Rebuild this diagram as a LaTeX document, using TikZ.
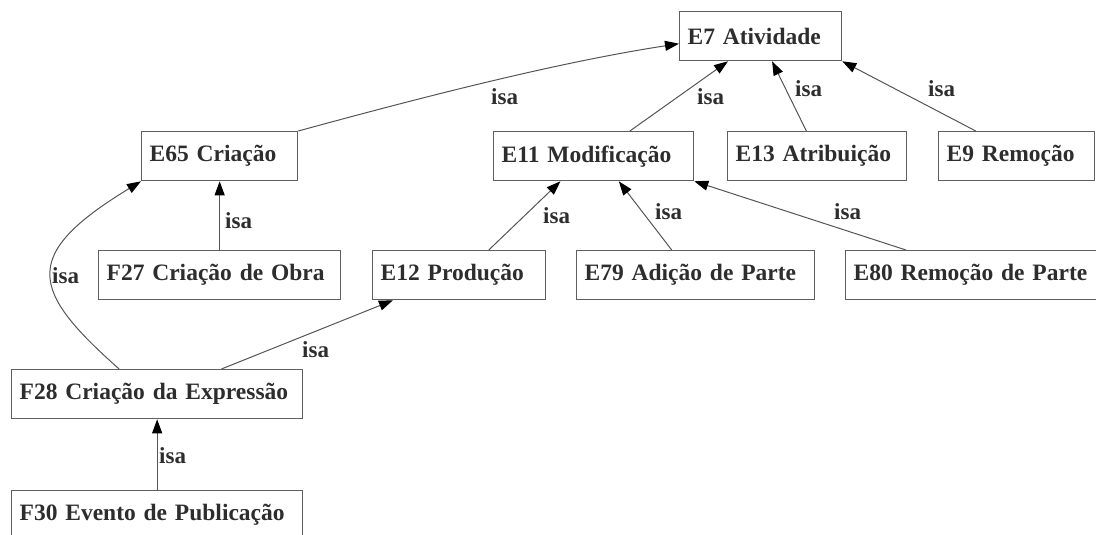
\documentclass[tikz,border=0pt]{standalone}
\usepackage{fontspec}
\setmainfont{Liberation Serif}
\usetikzlibrary{arrows.meta,calc}
\definecolor{boxline}{RGB}{95,95,95}
\definecolor{edgeline}{RGB}{85,85,85}
\definecolor{labeltext}{RGB}{45,45,45}
\begin{document}
\begin{tikzpicture}[x=1pt,y=-1pt,
  cls/.style={draw=boxline, line width=1.3pt, anchor=north west, minimum height=49pt,
    inner xsep=8pt, inner ysep=0pt, align=left,
    font=\fontsize{23.5}{28}\selectfont\bfseries, text=labeltext},
  isa/.style={draw=edgeline, line width=1pt,
    -{Triangle[length=14pt,width=10pt,color=black]}},
  lbl/.style={anchor=base west, inner sep=0pt,
    font=\fontsize{23}{27}\selectfont\bfseries, text=labeltext}]
\useasboundingbox (0,0) rectangle (1096,535);
\clip (0,0) rectangle (1096,535);

% classes (box width = text width + 16pt)
\node[cls, text width=146pt] (e7)  at (679,11)  {E7 Atividade};
\node[cls, text width=140pt] (e65) at (141,131) {E65 Criação};
\node[cls, text width=184pt] (e11) at (493,131) {E11 Modificação};
\node[cls, text width=163pt] (e13) at (727,131) {E13 Atribuição};
\node[cls, text width=140pt] (e9)  at (938,131) {E9 Remoção};
\node[cls, text width=226pt] (f27) at (98,250)  {F27 Criação de Obra};
\node[cls, text width=157pt] (e12) at (372,250) {E12 Produção};
\node[cls, text width=222pt] (e79) at (576,250) {E79 Adição de Parte};
\node[cls, text width=244pt] (e80) at (845,250) {E80 Remoção de Parte};
\node[cls, text width=275pt] (f28) at (11,369)  {F28 Criação da Expressão};
\node[cls, text width=275pt] (f30) at (11,490)  {F30 Evento de Publicação};

% isa links
\draw[isa] (e65.north east) .. controls (430,95) and (560,62) .. ($(e7.north west)!0.65!(e7.south west)$);
\draw[isa] ($(e11.north west)!0.68!(e11.north east)$) -- ($(e7.south west)!0.30!(e7.south east)$);
\draw[isa] ($(e13.north west)!0.44!(e13.north east)$) -- ($(e7.south west)!0.57!(e7.south east)$);
\draw[isa] ($(e9.north west)!0.24!(e9.north east)$) -- (e7.south east);
\draw[isa] (f27.north) -- (f27.north |- e65.south);
\draw[isa] ($(f28.north west)!0.37!(f28.north east)$) .. controls (30,290) and (20,255) .. (e65.south west);
\draw[isa] ($(e12.north west)!0.67!(e12.north east)$) -- ($(e11.south west)!0.335!(e11.south east)$);
\draw[isa] ($(e79.north west)!0.40!(e79.north east)$) -- ($(e11.south west)!0.625!(e11.south east)$);
\draw[isa] ($(e80.north west)+(61,0)$) -- (e11.south east);
\draw[isa] ($(f28.north west)!0.72!(f28.north east)$) -- ($(e12.south west)!0.12!(e12.south east)$);
\draw[isa] (f30.north) -- (f28.south);

% link labels
\node[lbl] (l1)  at (491,104) {isa};
\node[lbl] (l2)  at (697,104) {isa};
\node[lbl] (l3)  at (795,97)  {isa};
\node[lbl] (l4)  at (928,97)  {isa};
\node[lbl] (l5)  at (225,228) {isa};
\node[lbl] (l6)  at (52,283)  {isa};
\node[lbl] (l7)  at (543,223) {isa};
\node[lbl] (l8)  at (655,219) {isa};
\node[lbl] (l9)  at (834,219) {isa};
\node[lbl] (l10) at (302,357) {isa};
\node[lbl] (l11) at (159,463) {isa};
\end{tikzpicture}
\end{document}
